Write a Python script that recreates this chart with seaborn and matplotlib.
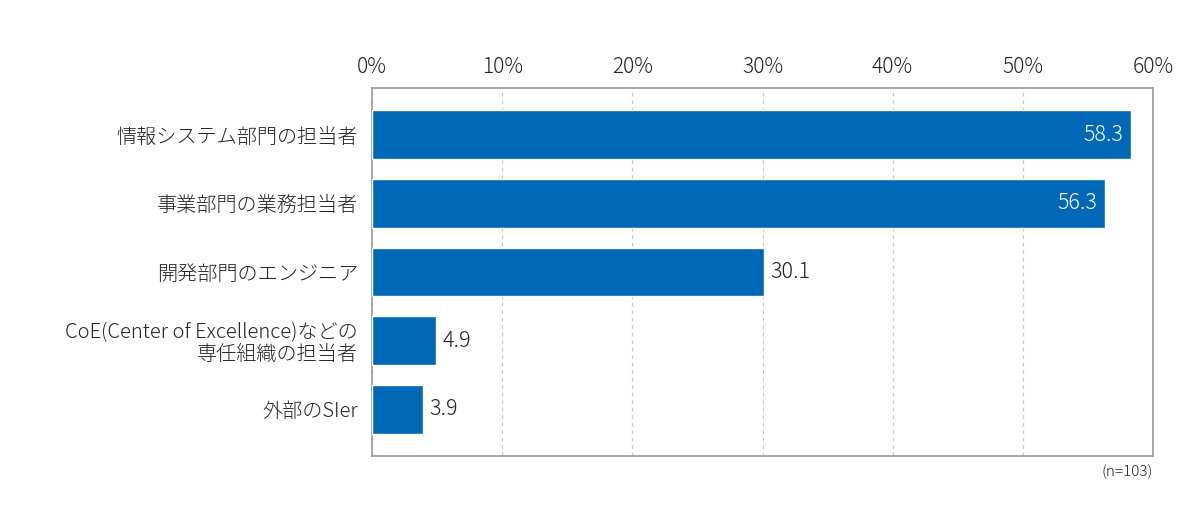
import matplotlib
matplotlib.use('Agg')
import matplotlib.pyplot as plt
import seaborn as sns
import pandas as pd
from matplotlib.ticker import FuncFormatter

categories = ['情報システム部門の担当者', '事業部門の業務担当者', '開発部門のエンジニア',
              'CoE(Center of Excellence)などの\n専任組織の担当者', '外部のSIer']
values = [58.3, 56.3, 30.1, 4.9, 3.9]
ticks = [0, 10, 20, 30, 40, 50, 60]

sns.set_theme(style='white')
plt.rcParams['font.family'] = ['Noto Sans CJK JP', 'DejaVu Sans']
plt.rcParams['font.weight'] = 'light'

df = pd.DataFrame({'cat': categories, 'val': values})

fig = plt.figure(figsize=(12, 5.19), dpi=100)
ax = fig.add_axes([372 / 1200, 1 - 456 / 519, (1153 - 372) / 1200, (456 - 88) / 519])

sns.barplot(data=df, x='val', y='cat', color='#0068b7', saturation=1, width=0.71, ax=ax, zorder=3)

ax.set_xlim(0, 60)
ax.set_ylim(4.68, -0.68)
ax.set_xticks(ticks)
ax.xaxis.set_major_formatter(FuncFormatter(lambda v, p: f'{int(v)}%'))
ax.xaxis.tick_top()
ax.tick_params(axis='x', length=0, pad=7, labelsize=15, labelcolor='#222222')
ax.tick_params(axis='y', length=0, pad=10, labelsize=14.5, labelcolor='#222222')
for lab in ax.get_yticklabels():
    lab.set_linespacing(1.05)
ax.set_xlabel('')
ax.set_ylabel('')
ax.grid(axis='x', color='#c8c8c8', linestyle=(0, (3, 3)), linewidth=0.9, zorder=0)
ax.grid(axis='y', visible=False)
for s in ax.spines.values():
    s.set_visible(True)
    s.set_color('#999999')
    s.set_linewidth(1.2)

for i, v in enumerate(values):
    if v > 50:
        ax.text(v - 0.6, i, f'{v:.1f}', ha='right', va='center', color='white', fontsize=15.5)
    else:
        ax.text(v + 0.5, i, f'{v:.1f}', ha='left', va='center', color='#222222', fontsize=15.5)

fig.text(1153 / 1200, 1 - 472 / 519, '(n=103)', ha='right', va='center', fontsize=11, color='#222222')

fig.savefig('out.png', dpi=100)
